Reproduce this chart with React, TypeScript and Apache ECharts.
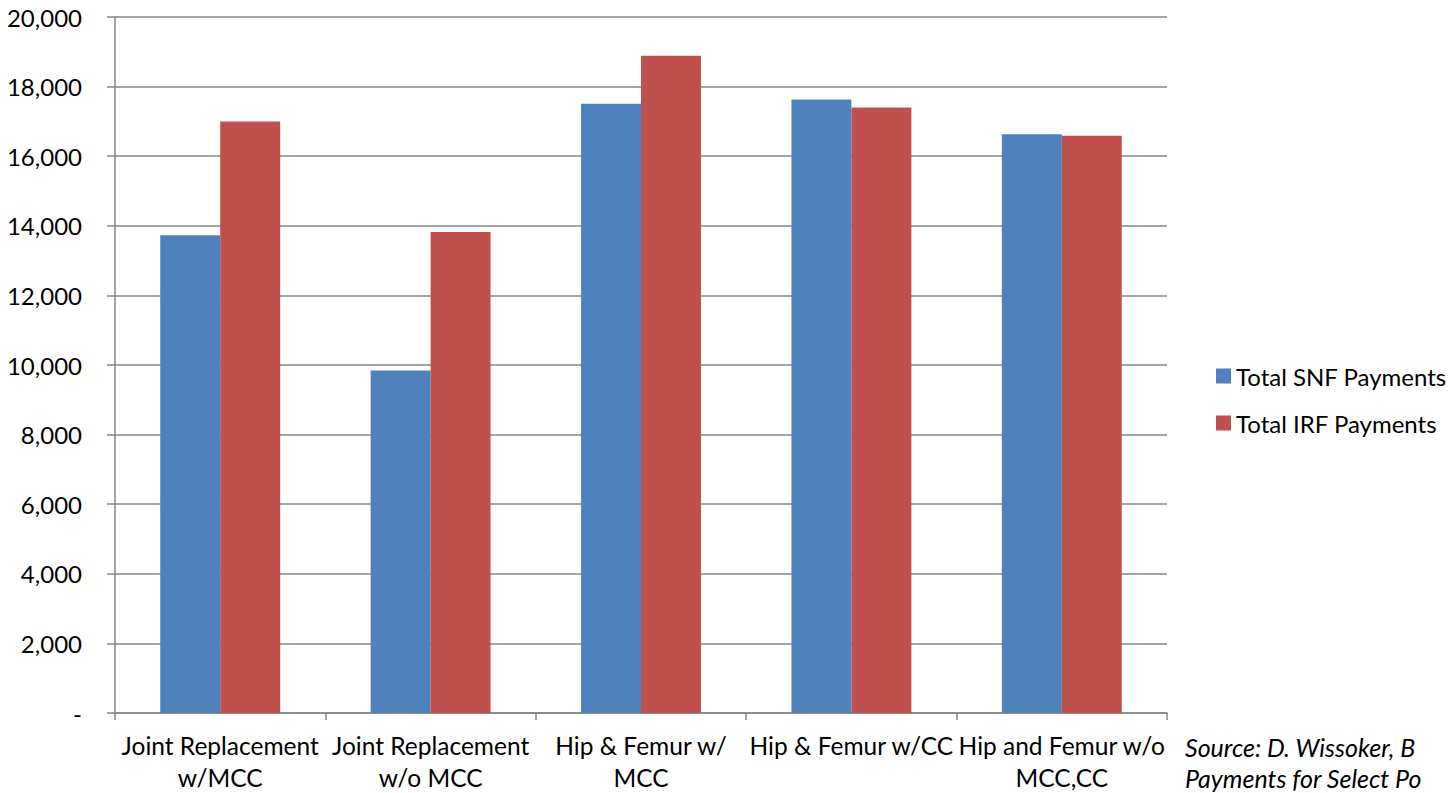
import React, { useEffect, useRef } from "react";
import * as echarts from "echarts";

const categories = [
  "Joint Replacement\nw/MCC",
  "Joint Replacement\nw/o MCC",
  "Hip & Femur w/\nMCC",
  "Hip & Femur w/CC",
  "Hip and Femur w/o\nMCC,CC",
];
const snfPayments = [13730, 9840, 17510, 17630, 16630];
const irfPayments = [17000, 13820, 18890, 17400, 16590];
const seriesNames = ["Total SNF Payments", "Total IRF Payments"];
const sourceLines = ["Source: D. Wissoker, B", "Payments for Select Po"];

const FONT = "Lato, 'Open Sans', sans-serif";
const GRAY = "#868686";
const FS = 24;

export default function App() {
  const ref = useRef<HTMLDivElement>(null);
  useEffect(() => {
    if (!ref.current) return;
    const chart = echarts.init(ref.current, undefined, { renderer: "svg" });
    chart.setOption({
      animation: false,
      backgroundColor: "#ffffff",
      textStyle: { fontFamily: FONT },
      grid: { left: 115, right: 284, top: 17, bottom: 77 },
      legend: {
        orient: "vertical",
        left: 1211,
        top: 359,
        itemWidth: 15,
        itemHeight: 15,
        itemGap: 23,
        itemTextGap: 6,
        icon: "rect",
        textStyle: { fontSize: FS, color: "#000", fontFamily: FONT },
        data: seriesNames,
      },
      xAxis: {
        type: "category",
        data: categories,
        axisLine: { lineStyle: { color: GRAY, width: 1.5 } },
        axisTick: { show: true, length: 7, lineStyle: { color: GRAY, width: 1.5 } },
        axisLabel: {
          interval: 0,
          fontSize: 24.5,
          color: "#000",
          lineHeight: 32,
          margin: 16,
          fontFamily: FONT,
        },
      },
      yAxis: {
        type: "value",
        min: 0,
        max: 20000,
        interval: 2000,
        axisLine: { show: true, lineStyle: { color: GRAY, width: 1.5 } },
        axisTick: { show: true, length: 8, lineStyle: { color: GRAY, width: 1.5 } },
        splitLine: { lineStyle: { color: GRAY, width: 1.5 } },
        axisLabel: {
          fontSize: FS,
          color: "#000",
          margin: 33,
          fontFamily: FONT,
          formatter: (v: number) => (v === 0 ? "-" : v.toLocaleString("en-US")),
        },
      },
      series: [
        {
          name: seriesNames[0],
          type: "bar",
          data: snfPayments,
          barGap: "0%",
          barCategoryGap: "43%",
          itemStyle: { color: "#4F81BD" },
        },
        {
          name: seriesNames[1],
          type: "bar",
          data: irfPayments,
          barGap: "0%",
          barCategoryGap: "43%",
          itemStyle: { color: "#C0504D" },
        },
      ],
      graphic: [
        {
          type: "text",
          left: 1185,
          top: 731,
          style: {
            text: sourceLines.join("\n"),
            fontSize: 25,
            lineHeight: 31,
            fontStyle: "italic",
            fontFamily: FONT,
            fill: "#000",
          },
        },
      ],
    });
    return () => chart.dispose();
  }, []);
  return (
    <div
      ref={ref}
      style={{ position: "fixed", left: 0, top: 0, width: 1451, height: 793 }}
    />
  );
}
